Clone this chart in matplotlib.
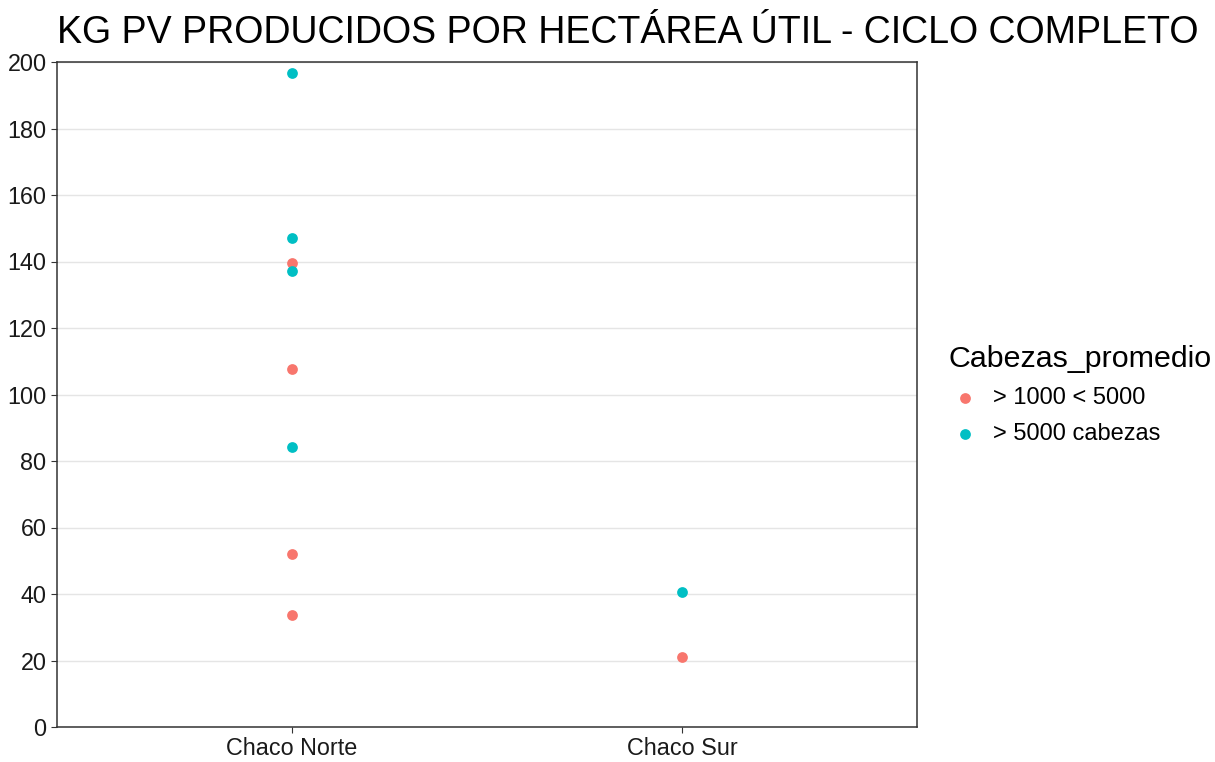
import matplotlib.pyplot as plt
import numpy as np

plt.rcParams['font.family'] = ['Liberation Sans', 'DejaVu Sans']

# datos
regiones = ['Chaco Norte', 'Chaco Sur']
grupos = ['> 1000 < 5000', '> 5000 cabezas']
colores = ['#F8766D', '#00BFC4']

region_chico = ['Chaco Norte', 'Chaco Norte', 'Chaco Norte', 'Chaco Norte', 'Chaco Sur']
kg_chico = [139.5, 107.7, 52.1, 33.7, 21.0]

region_grande = ['Chaco Norte', 'Chaco Norte', 'Chaco Norte', 'Chaco Norte', 'Chaco Sur']
kg_grande = [196.6, 147.2, 137.2, 84.1, 40.7]

fig = plt.figure(figsize=(12.15, 7.62), dpi=100)
ax = fig.add_axes([57/1215, 35/762, 860/1215, 665/762])

pos = {r: i + 1 for i, r in enumerate(regiones)}
ax.scatter([pos[r] for r in region_chico], kg_chico, s=60, color=colores[0],
           label=grupos[0], zorder=3, linewidths=0)
ax.scatter([pos[r] for r in region_grande], kg_grande, s=60, color=colores[1],
           label=grupos[1], zorder=3, linewidths=0)

ax.set_xlim(0.4, 2.6)
ax.set_ylim(0, 200)
ax.set_xticks([1, 2])
ax.set_xticklabels(regiones)
ax.set_yticks(np.arange(0, 201, 20))
ax.tick_params(labelsize=16.8, length=4, color='#333333', labelcolor='#1a1a1a')
ax.yaxis.grid(True, color='#e5e5e5', linewidth=1)
ax.set_axisbelow(True)
for s in ax.spines.values():
    s.set_color('#333333')
    s.set_linewidth(1.1)

fig.text(0.5165, 0.957, 'KG PV PRODUCIDOS POR HECTÁREA ÚTIL - CICLO COMPLETO',
         ha='center', va='center', fontsize=27, color='black')

leg = ax.legend(loc='center left', bbox_to_anchor=(948/1215, 0.482),
                bbox_transform=fig.transFigure, frameon=False,
                title='Cabezas_promedio', fontsize=17, title_fontsize=21.9,
                handlelength=1.4, handletextpad=0.5, labelspacing=0.6,
                markerscale=1.0, borderaxespad=0, borderpad=0)
leg._legend_box.align = 'left'

fig.savefig('out.png', dpi=100)
